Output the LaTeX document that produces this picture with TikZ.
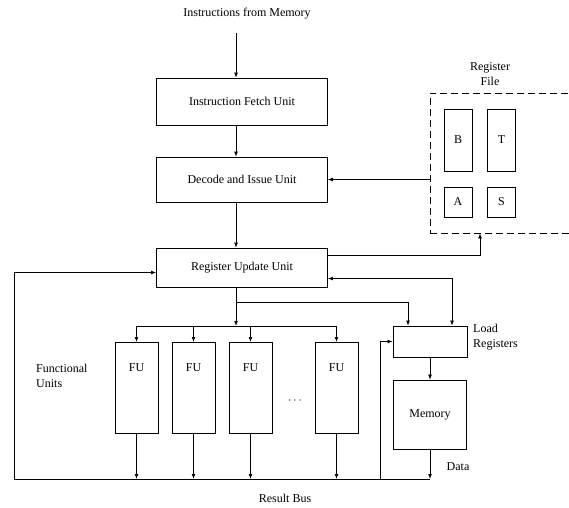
\documentclass[tikz,border=0pt]{standalone}
\usepackage{fontspec}
\setmainfont{Liberation Serif}
\usetikzlibrary{arrows.meta}
\tikzset{
  >={Latex[length=5pt,width=3.8pt]},
  unit/.style={draw, line width=0.7pt, minimum width=171pt, inner sep=0},
  fu/.style={draw, line width=0.7pt, minimum width=43pt, minimum height=91pt, inner sep=0,
    anchor=north, label={[anchor=center, yshift=-26pt]north:FU}},
  reg/.style={draw, line width=0.7pt, minimum width=28pt, inner sep=0},
  link/.style={->, line width=0.7pt},
  wire/.style={line width=0.7pt},
  caption/.style={align=center, inner sep=0},
}

\begin{document}
\begin{tikzpicture}[x=1pt, y=-1pt, font=\fontsize{12}{15}\selectfont]
  \useasboundingbox (0,0) rectangle (569,507);

  % ---- fetch / decode / update pipeline
  \node[caption] (title) at (247,14) {Instructions from Memory};
  \coordinate (src) at (236,33);
  \node[unit, minimum height=47pt] (ifu) at (242,101.5) {Instruction Fetch Unit};
  \node[unit, minimum height=45pt] (diu) at (242,179.5) {Decode and Issue Unit};
  \node[unit, minimum height=39pt] (ruu) at (242,267.5) {Register Update Unit};

  \draw[link] (src) -- (src |- ifu.north);
  \draw[link] (ifu.south -| src) -- (diu.north -| src);
  \draw[link] (diu.south -| src) -- (ruu.north -| src);

  % ---- register file
  \node[draw, dash pattern=on 7pt off 4pt, line width=0.7pt, minimum width=142pt,
    minimum height=140pt, inner sep=0] (rf) at (501,163) {};
  \node[caption] at (490,74) {Register\\File};
  \node[reg, minimum height=62pt] (regB) at (458,140) {B};
  \node[reg, minimum height=62pt] (regT) at (501.5,140) {T};
  \node[reg, minimum height=30pt] (regA) at (458,202) {A};
  \node[reg, minimum height=30pt] (regS) at (501.5,202) {S};

  \draw[link] (rf.west |- diu.east) -- (diu.east);
  \draw[link] ([yshift=12pt]ruu.east) -| ([xshift=-21pt]rf.south);

  % ---- functional units
  \foreach \n/\x in {1/136.5, 2/193.5, 3/250.5, 4/336.5}
    \node[fu] (fu\n) at (\x,342) {};
  \node[caption] (dots) at (295,401) {$\cdots$};
  \node[caption, align=left, anchor=west] at (36,376) {Functional\\Units};

  % ---- load registers and memory
  \node[unit, minimum width=74pt, minimum height=31pt] (lr) at (430,341.5) {};
  \node[caption, align=left, anchor=west] at (473,337) {Load\\Registers};
  \node[unit, minimum width=73pt, minimum height=69pt] (mem) at (430,414.5) {Memory};
  \node[caption] at (458,467) {Data};

  % ---- issue paths out of the update unit
  \coordinate (tap) at (236,302);
  \coordinate (dist) at (236,326);
  \draw[wire] (ruu.south -| tap) -- (tap);
  \draw[link] (tap) -- (dist);
  \draw[link] (tap) -| ([xshift=-22pt]lr.north);
  \draw[<->, line width=0.7pt] ([yshift=-11pt]ruu.east) -| ([xshift=22pt]lr.north);
  \draw[wire] (fu1.north |- dist) -- (fu4.north |- dist);
  \foreach \n in {1,...,4}
    \draw[link] (fu\n.north |- dist) -- (fu\n.north);

  % ---- result bus
  \coordinate (busL) at (14,479);
  \coordinate (tapL) at (380,479);
  \draw[wire] (busL) -- (mem.south |- busL);
  \foreach \n in {1,...,4}
    \draw[link] (fu\n.south) -- (fu\n.south |- busL);
  \draw[link] (lr.south) -- (mem.north);
  \draw[link] (mem.south) -- (mem.south |- busL);
  \draw[link] (busL) |- ([yshift=-5pt]ruu.west);
  \draw[link] (tapL) |- (lr.west);
  \node[caption] at (285,498) {Result Bus};

\end{tikzpicture}
\end{document}
